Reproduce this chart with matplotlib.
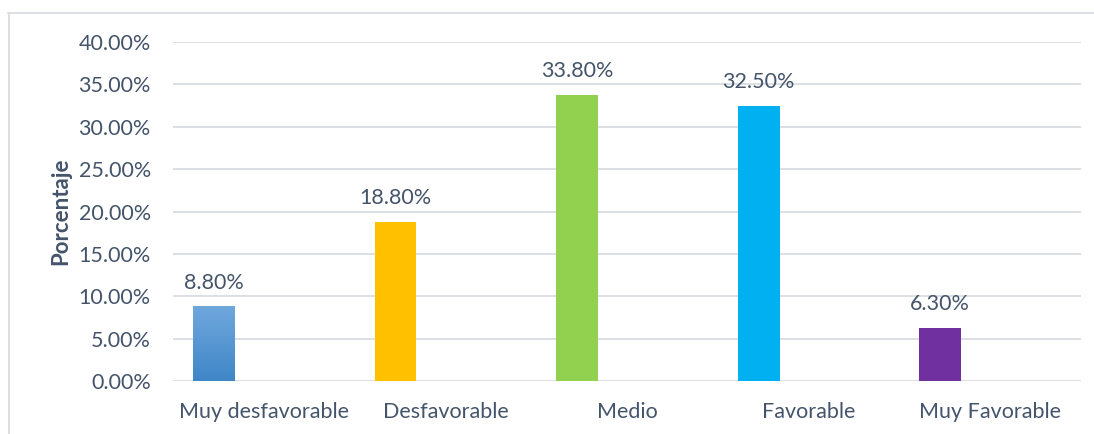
import matplotlib
matplotlib.use("Agg")
import matplotlib.pyplot as plt
import numpy as np
from matplotlib.lines import Line2D
from matplotlib.colors import LinearSegmentedColormap

categories = ["Muy desfavorable", "Desfavorable", "Medio", "Favorable", "Muy Favorable"]
values = [8.80, 18.80, 33.80, 32.50, 6.30]
bar_colors = ["#5B9BD5", "#FFC000", "#92D050", "#00B0F0", "#7030A0"]
y_ticks = [0, 5, 10, 15, 20, 25, 30, 35, 40]

text_color = "#44546A"
grid_color = "#D9DDE3"
fs = 15.5
plt.rcParams["font.family"] = ["Lato", "DejaVu Sans"]

W, H = 1094, 434
fig = plt.figure(figsize=(W / 100, H / 100), dpi=100)
ax = fig.add_axes([173 / W, 1 - 381 / H, (1081 - 173) / W, (381 - 42) / H])

x = np.arange(len(categories))
offset = -0.275
width = 0.23
bars = ax.bar(x + offset, values, width=width, color=bar_colors, zorder=3)

# vertical gradient on the first bar
b0 = bars[0]
bx, by = b0.get_x(), b0.get_y()
bw, bh = b0.get_width(), b0.get_height()
grad = np.linspace(0, 1, 256).reshape(-1, 1)
cmap = LinearSegmentedColormap.from_list("blue_grad", ["#3F86C8", "#70A8DD"])
img = ax.imshow(grad, extent=[bx, bx + bw, by, by + bh], origin="lower",
                aspect="auto", cmap=cmap, zorder=4)
img.set_clip_path(b0)

for v, xi in zip(values, x + offset):
    ax.annotate(f"{v:.2f}%", (xi, v), xytext=(0, 17.0), textcoords="offset points",
                ha="center", va="center", fontsize=fs, color=text_color)

ax.set_xlim(-0.5, len(categories) - 0.5)
ax.set_ylim(0, 40)
ax.set_yticks(y_ticks)
ax.set_yticklabels([f"{t:.2f}%" for t in y_ticks])
ax.set_xticks(x)
ax.set_xticklabels(categories)
ax.tick_params(axis="y", length=0, pad=16, labelsize=fs, labelcolor=text_color)
ax.tick_params(axis="x", length=0, pad=15, labelsize=fs, labelcolor=text_color)
ax.grid(axis="y", color=grid_color, linewidth=1.3, zorder=0)
for s in ax.spines.values():
    s.set_visible(False)
ax.set_ylabel("Porcentaje", fontsize=16, fontweight="bold", color=text_color, labelpad=5)

# outer chart frame (top and left edges)
fig.add_artist(Line2D([8 / W, 1.0], [1 - 12.5 / H, 1 - 12.5 / H], color=grid_color, lw=1.3,
                      transform=fig.transFigure))
fig.add_artist(Line2D([8.5 / W, 8.5 / W], [0, 1 - 12.5 / H], color=grid_color, lw=1.3,
                      transform=fig.transFigure))

fig.savefig("out.png", dpi=100)
